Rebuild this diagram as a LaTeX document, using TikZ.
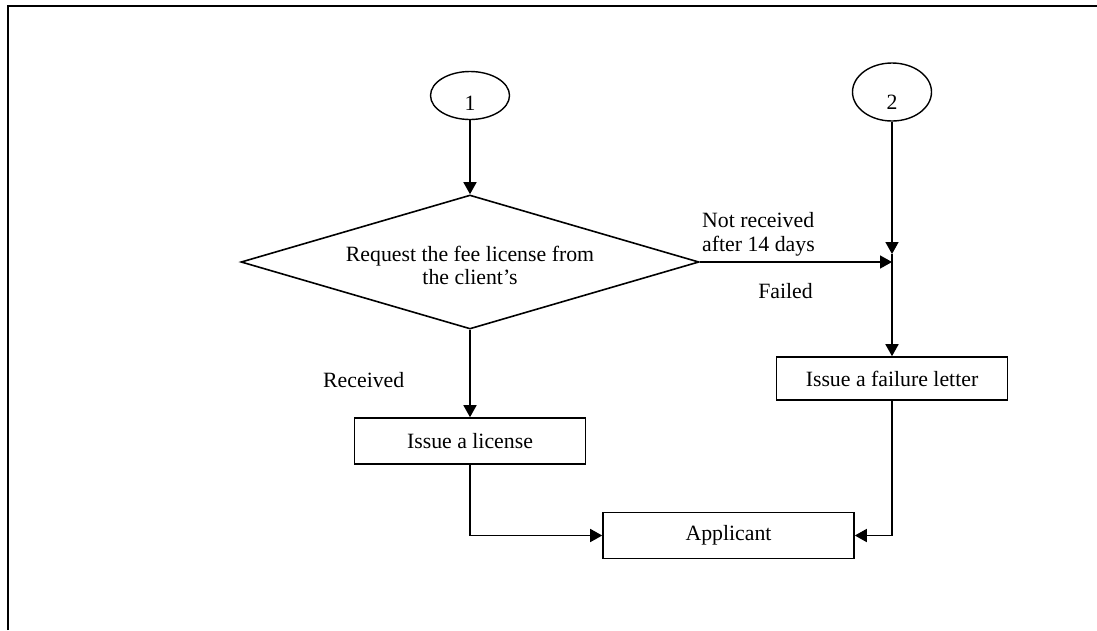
\documentclass[tikz,border=0pt]{standalone}
\usepackage{fontspec}
\setmainfont{Liberation Serif}
\usetikzlibrary{arrows.meta,shapes.geometric}
\begin{document}
\begin{tikzpicture}[x=1pt,y=-1pt,
  every node/.style={font=\fontsize{21.8}{23.5}\selectfont},
  flow/.style={line width=1.6pt},
  arr/.style={flow,-{Triangle[length=12pt,width=13pt]}},
  proc/.style={draw,line width=1.6pt,rectangle,inner sep=0pt},
  term/.style={draw,line width=1.4pt,ellipse,inner sep=0pt},
  lbl/.style={inner sep=0pt,anchor=base},
  lblw/.style={inner sep=0pt,anchor=base west},
  lble/.style={inner sep=0pt,anchor=base east}]
\useasboundingbox (0,0) rectangle (1097,630);
\draw[line width=1.5pt] (8,630) -- (8,6) -- (1097,6);

% start / connector circles
\node[term,minimum width=79pt,minimum height=48pt] (e1) at (470,95.5) {};
\node[lbl] (n1) at (470,110) {1};
\node[term,minimum width=79pt,minimum height=58pt] (e2) at (892,92) {};
\node[lbl] (n2) at (892,109) {2};

% decision
\node[draw,diamond,line width=1.6pt,inner sep=0pt,minimum width=458pt,minimum height=134pt] (d) at (470,262) {};
\node[lbl] (dt1) at (470,261.7) {Request the fee license from};
\node[lbl] (dt2) at (470,284) {the client’s};

% boxes
\node[proc,minimum width=231pt,minimum height=46pt] (lic) at (470,441) {Issue a license};
\node[proc,minimum width=231pt,minimum height=43pt] (fail) at (892,378.5) {Issue a failure letter};
\node[proc,minimum width=251pt,minimum height=46pt] (app) at (728.5,535.5) {Applicant};

% labels
\node[lblw] (nr1) at (702,227) {Not received};
\node[lblw] (nr2) at (702,251) {after 14 days};
\node[lble] (fl) at (813,298) {Failed};
\node[lblw] (rc) at (323,387) {Received};

% connectors
\coordinate (J) at (892,262);
\coordinate (Jt) at (892,254);
\draw[arr] (e1.south) -- (d.north);
\draw[arr] (e2.south) -- (Jt);
\draw[flow] (Jt) -- (J);
\draw[arr] (d.east) -- (J);
\draw[arr] (J) -- (fail.north);
\draw[arr] (d.south) -- (lic.north);
\draw[arr] (lic.south) |- (app.west);
\draw[arr] (fail.south) |- (app.east);
\end{tikzpicture}
\end{document}
